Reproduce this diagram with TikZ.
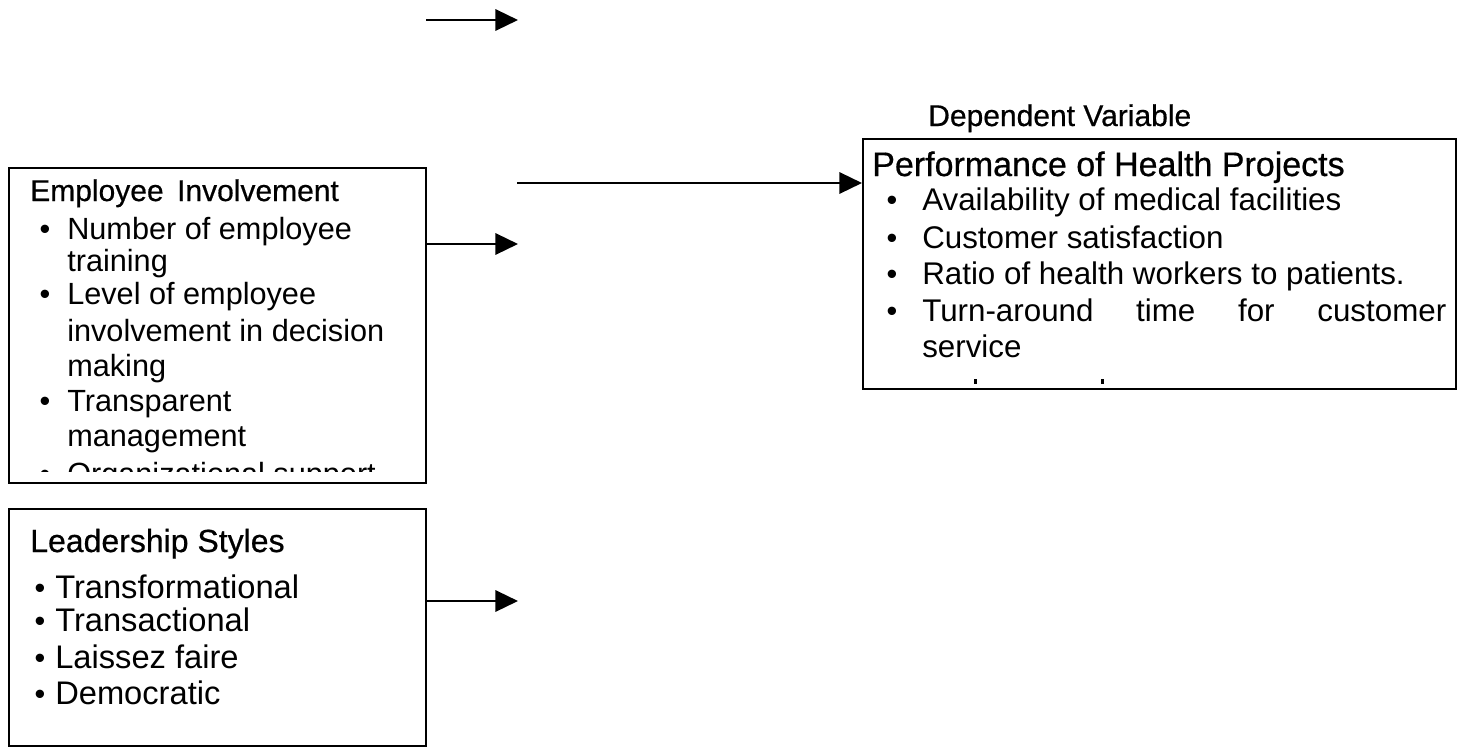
\documentclass[tikz,border=0pt]{standalone}
\usepackage{fontspec}
\setmainfont{Liberation Sans}
\newfontfamily\medfont[FakeBold=0.6]{Liberation Sans}
\usetikzlibrary{arrows.meta,calc}
\tikzset{
  box/.style={draw, line width=1.8pt, inner sep=0pt, anchor=north west},
  txt/.style={anchor=base west, inner sep=0pt, font=\fontsize{23}{27}\selectfont},
  txtR/.style={anchor=base west, inner sep=0pt, font=\fontsize{23.5}{27}\selectfont},
  txtL/.style={anchor=base west, inner sep=0pt, font=\fontsize{24.5}{28}\selectfont},
  ttl/.style={anchor=base west, inner sep=0pt},
  bul/.style={anchor=base, inner sep=0pt, font=\fontsize{23}{27}\selectfont},
  arr/.style={line width=1.8pt, -{Triangle[length=17pt,width=16pt]}},
}
\begin{document}
\begin{tikzpicture}[x=0.75pt,y=-0.75pt]
\useasboundingbox (0,0) rectangle (1463,753);
% boxes
\node[box, minimum width={417*0.75pt}, minimum height={315*0.75pt}] (b1) at (8,167) {};
\node[box, minimum width={417*0.75pt}, minimum height={237*0.75pt}] (b2) at (8,508) {};
\node[box, minimum width={593*0.75pt}, minimum height={250*0.75pt}] (bR) at (862,138) {};
% arrows
\coordinate (a0s) at (426,20);
\coordinate (a0e) at (518,20);
\draw[arr] (a0s) -- (a0e);
\coordinate (e1) at (518,244);
\draw[arr] (b1.east |- e1) -- (e1);
\coordinate (e2) at (518,601);
\draw[arr] (b2.east |- e2) -- (e2);
\coordinate (s3) at (517,183);
\draw[arr] (s3) -- (bR.west |- s3);
% right box
\node[ttl, font=\medfont\fontsize{22.5}{26}\selectfont] (dv) at (928,126) {Dependent Variable};
\node[ttl, font=\medfont\fontsize{25.5}{29}\selectfont] (rt) at (872,176) {Performance of Health Projects};
\node[bul] (rb1) at (892,210) {•};
\node[txtR] (r1) at (922,210) {Availability of medical facilities};
\node[bul] (rb2) at (892,248) {•};
\node[txtR] (r2) at (922,248) {Customer satisfaction};
\node[bul] (rb3) at (892,284) {•};
\node[txtR] (r3) at (922,284) {Ratio of health workers to patients.};
\node[bul] (rb4) at (892,321) {•};
\node[txtR] (r4) at (922,321) {\makebox[393pt][s]{Turn-around time for customer}};
\node[txtR] (r5) at (922,357) {service};
\fill (974,379) rectangle (977,384);
\fill (1101,379) rectangle (1104,384);
% box 1
\node[ttl, font=\medfont\fontsize{22.5}{26}\selectfont] (t1) at (30,201) {Employee\hspace{0.45em}Involvement};
\node[bul] (b1b1) at (45,239) {•};
\node[txt] (l1) at (67,239) {Number of employee};
\node[txt] (l2) at (67,271) {training};
\node[bul] (b1b2) at (45,304) {•};
\node[txt] (l3) at (67,304) {Level of employee};
\node[txt] (l4) at (67,341) {involvement in decision};
\node[txt] (l5) at (67,376) {making};
\node[bul] (b1b3) at (45,411) {•};
\node[txt] (l6) at (67,411) {Transparent};
\node[txt] (l7) at (67,446) {management};
\begin{scope}
  \clip (8,167) rectangle (425,471);
  \node[bul] (b1b4) at (45,484) {•};
  \node[txt] (l8) at (67,484) {Organizational support};
\end{scope}
% box 2
\node[ttl, font=\medfont\fontsize{24}{28}\selectfont] (t2) at (30,552) {Leadership Styles};
\node[bul] (b2b1) at (40,598) {•};
\node[txtL] (m1) at (55,598) {Transformational};
\node[bul] (b2b2) at (40,631) {•};
\node[txtL] (m2) at (55,631) {Transactional};
\node[bul] (b2b3) at (40,668) {•};
\node[txtL] (m3) at (55,668) {Laissez faire};
\node[bul] (b2b4) at (40,704) {•};
\node[txtL] (m4) at (55,704) {Democratic};
\end{tikzpicture}
\end{document}
